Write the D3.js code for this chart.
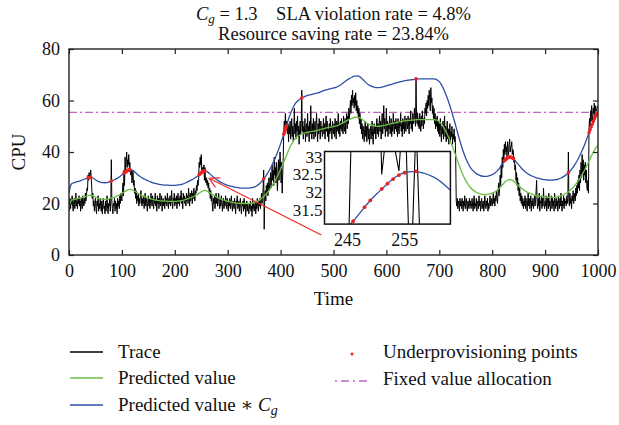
<!DOCTYPE html>
<html>
<head>
<meta charset="utf-8">
<script src="https://cdn.jsdelivr.net/npm/d3@7"></script>
<style>
  body { margin: 0; background: #fff; }
  svg { display: block; }
  text { font-family: "Liberation Serif", "DejaVu Serif", serif; fill: #111; }
</style>
</head>
<body>
<svg id="chart" width="619" height="425"></svg>
<script>
// ---------- data ----------
const Cg = 1.3;
const fixedAlloc = 55.4;
const xTicks = [0, 100, 200, 300, 400, 500, 600, 700, 800, 900, 1000];
const yTicks = [0, 20, 40, 60, 80];
const insetXTicks = [245, 255];
const insetYTicks = [31.5, 32, 32.5, 33];

// CPU trace, one value per time step (t = 0..999)
const trace = [
  17,19,22,18,21,20,23,19,17,21,22,18,20,24,19,21,18,22,20,23,
  19,21,17,22,20,18,23,21,19,22,20,24,21,23,26,25,31,29,32,30.5,
  31,33,30,26,22,24,19,21,17,20,22,18,16,21,19,23,17,20,18,22,
  19,17,21,16,20,22,18,19,16,21,17,20,23,18,16,20,19,22,17,21,
  37,21,18,16,20,19,22,17,21,18,20,16,22,19,21,18,23,20,24,22,
  21,25,28,23,33,27,38,33,36,40,34,37,35,39,34,36,32,31,33,28,
  30,33,27,29,24,26,22,25,20,23,21,24,19,22,20,23,25,21,19,22,
  20,23,18,21,24,19,22,20,17,21,23,19,22,18,20,24,21,19,23,20,
  18,22,20,24,19,21,17,23,20,22,18,21,24,19,20,23,17,21,22,19,
  21,18,23,20,22,19,24,21,18,22,20,23,19,21,25,20,18,22,21,24,
  19,22,20,23,18,21,24,20,22,19,23,21,25,20,22,18,24,21,23,20,
  22,19,24,21,23,20,26,22,19,24,21,23,25,20,24,22,26,23,21,25,
  24,27,25,29,27,29,36,34,38,35,39,32.5,34,33.5,32.6,35,29,34,29,28,
  30,27,29,26,28,24,26,22,25,21,23,19,17,22,20,23,18,21,24,20,
  22,19,21,24,20,18,22,19,23,21,17,20,22,18,21,19,23,20,18,22,
  20,17,21,19,22,18,20,23,19,17,21,20,18,22,19,16,21,20,23,18,
  19,21,17,20,22,18,16,20,19,21,17,22,18,20,15,19,21,17,20,18,
  16,20,18,21,17,19,15,22,18,20,17,19,21,16,20,18,22,19,17,21,
  19,22,18,21,24,20,23,26,33,10,22,25,21,27,24,28,23,26,30,25,
  28,32,26,30,35,29,33,27,38,31,34,28,36,30,25,33,37,29,35,40,
  34,28,36,24,31,38,48,52,49,55,50,52,49,47,51,44,50,47,52,45,
  48,53,46,50,44,49,57,47,51,45,52,48,54,46,50,43,49,52,47,51,
  64,48,52,45,50,47,53,44,49,51,46,55,48,50,44,52,47,58,49,45,
  51,47,53,45,49,52,46,50,55,48,44,51,47,53,49,45,52,48,50,46,
  49,53,47,51,45,50,54,48,52,46,49,44,51,47,53,48,50,45,52,49,
  47,51,46,53,49,45,52,48,50,55,47,51,46,52,49,53,48,51,47,54,
  50,48,53,47,52,55,49,54,51,57,53,56,60,55,62,58,64,59,61,57,
  62,58,63,56,60,55,58,53,57,51,55,49,53,47,51,45,50,48,44,49,
  52,46,50,44,48,51,45,49,43,47,50,45,48,52,46,43,49,51,47,50,
  45,49,53,47,51,46,50,54,48,52,45,49,55,47,51,58,49,53,46,50,
  57,48,52,46,51,49,54,47,50,53,46,51,48,55,50,47,52,49,53,48,
  51,46,53,49,47,52,50,55,48,51,46,53,49,52,47,54,50,48,53,51,
  49,54,50,47,53,51,56,49,52,48,55,51,53,57,52,50,69,54,51,55,
  50,53,49,55,51,48,54,50,56,52,49,53,51,57,55,59,54,60,57,62,
  58,64,60,56,65,59,61,55,58,53,57,51,55,49,53,50,54,48,52,47,
  51,46,53,48,44,50,47,52,45,49,54,46,50,44,48,52,45,49,43,47,
  51,44,48,46,50,43,47,45,49,44,46,38,21,19,22,18,21,20,17,22,
  19,21,18,22,20,17,21,19,23,18,20,22,19,17,21,20,18,22,19,21,
  18,20,22,19,17,21,23,18,20,19,22,17,21,20,18,23,19,21,17,20,
  22,18,20,21,17,19,23,20,18,21,19,22,17,20,18,21,23,19,20,22,
  19,21,24,20,22,19,23,21,25,22,20,24,28,23,26,31,27,35,30,38,
  34,41,37,43,39,44,40,42,38,44,41,39,43,45,40,42,42,44,39,41,
  40,36,38,33,35,29,32,27,30,25,28,23,26,21,24,20,23,19,22,18,
  21,19,23,18,22,20,17,21,24,19,22,18,20,23,17,21,19,22,18,20,
  23,19,21,25,29,20,18,22,19,24,17,21,20,23,18,22,19,26,20,18,
  21,19,23,17,20,22,18,24,19,21,17,20,23,18,22,19,21,17,24,20,
  18,22,19,21,17,23,20,18,22,19,24,20,17,21,19,23,18,22,20,21,
  19,23,20,22,40,21,19,24,20,22,18,23,21,25,20,22,24,21,26,23,
  27,24,29,26,31,25,33,28,36,30,39,32,37,29,35,31,36,28,33,26,
  25,29,24,49,53,50,56,52,58,54,51,57,55,59,54,58,56,56,57,58
];

// predicted value, one value every predStep time steps (t = 0..1000)
const predStep = 5;
const predicted = [
  18.5,21.3,21.6,21.9,22.1,22.4,22.7,23.0,23.2,23.0,
  22.5,22.0,21.7,21.6,21.6,21.8,22.1,22.4,22.8,23.3,
  23.9,24.6,25.2,25.5,25.3,24.7,24.0,23.4,22.9,22.5,
  22.1,21.8,21.5,21.3,21.1,21.0,20.9,20.9,20.8,20.8,
  20.8,20.9,21.0,21.2,21.5,21.9,22.3,22.7,23.2,23.83,
  24.56,25.04,24.95,24.4,23.7,23.0,22.4,21.9,21.5,21.1,
  20.8,20.6,20.4,20.2,20.1,20.0,20.0,20.0,20.0,20.1,
  20.3,20.7,21.3,22.1,23.1,24.3,25.7,27.3,29.0,31.0,
  33.2,35.6,38.1,40.6,42.8,44.5,45.7,46.4,46.9,47.3,
  47.6,47.8,48.0,48.2,48.4,48.7,49.0,49.3,49.5,49.7,
  49.9,50.1,50.5,51.0,51.6,52.2,52.7,53.1,53.4,53.5,
  53.2,52.5,51.7,51.0,50.5,50.2,50.0,50.0,50.1,50.3,
  50.5,50.8,51.0,51.3,51.5,51.7,51.9,52.1,52.2,52.3,
  52.4,52.5,52.6,52.6,52.6,52.6,52.6,52.6,52.6,52.4,
  51.8,50.6,48.9,46.9,44.6,42.0,39.2,36.3,33.5,31.0,
  28.9,27.2,25.9,25.0,24.3,23.9,23.6,23.5,23.5,23.7,
  24.0,24.5,25.2,26.2,27.4,28.5,29.2,29.3,28.8,27.9,
  26.9,26.0,25.2,24.5,24.0,23.6,23.3,23.0,22.8,22.6,
  22.5,22.4,22.4,22.4,22.5,22.7,23.0,23.4,24.0,24.7,
  25.6,26.7,28.0,29.5,31.2,33.1,35.2,37.4,39.5,41.3,
  42.8
];

// underprovisioning points (time, allocated value)
const underT = [36,38,39,40,41, 80, 104,106,107,108,109,110,111,112,113,114,115,
  246,248,249,251,252,253,254,255,257, 368, 406,407,408,409,410,411, 440, 656,
  823,825,826,828,829,830,831,832,834,836,838,840, 944,
  983,985,987,989,991,993,995,997,999];
const underV = [30.0,30.1,30.1,30.2,30.1, 28.7, 31.8,32.1,32.3,32.4,32.6,32.8,32.8,32.9,33.0,33.1,33.15,
  31.17,31.57,31.76,32.09,32.24,32.37,32.48,32.55,32.59, 29.5, 46.9,47.6,48.2,48.9,49.5,50.2, 61.0, 68.3,
  36.5,37.05,37.2,37.6,37.8,37.96,38.0,38.0,38.06,37.96,37.7,37.44, 31.9,
  47.5,48.6,49.7,50.8,51.8,52.8,53.7,54.5,55.25];

// inset (zoom) window and where it sits, both in data units
const insetDomainT = [241, 263];
const insetDomainV = [31.086, 33.157];
const insetBoxT = [483, 721];
const insetBoxV = [12, 40.2];
const arrowFrom = [477, 7.8];
const arrowTo = [265, 29.8];

// ---------- colours ----------
const COLORS = {
  trace: '#000000',
  pred: '#6cbf45',
  predCg: '#2f4fa6',
  under: '#ee2020',
  fixed: '#c462c4',
  arrow: '#ee2a2a',
};

const svg = d3.select('#chart');
const W = 619, H = 425;
svg.append('rect').attr('width', W).attr('height', H).attr('fill', '#fff');

const x = d3.scaleLinear().domain([0, 1000]).range([69, 598]);
const y = d3.scaleLinear().domain([0, 80]).range([255, 49]);

const predPts = predicted.map((v, i) => [i * predStep, v]);
const predCgPts = predPts.map(d => [d[0], d[1] * Cg]);
const tracePts = trace.map((v, i) => [i, v]);

svg.append('clipPath').attr('id', 'plotClip')
  .append('rect')
  .attr('x', x(0)).attr('y', y(80))
  .attr('width', x(1000) - x(0)).attr('height', y(0) - y(80));

const plot = svg.append('g').attr('clip-path', 'url(#plotClip)');

const lineFn = (sx, sy, curve) => d3.line().x(d => sx(d[0])).y(d => sy(d[1])).curve(curve || d3.curveLinear);

// fixed allocation
plot.append('line')
  .attr('x1', x(0)).attr('x2', x(1000))
  .attr('y1', y(fixedAlloc)).attr('y2', y(fixedAlloc))
  .attr('stroke', COLORS.fixed).attr('stroke-width', 1.3)
  .attr('stroke-dasharray', '8,3,2,3');

plot.append('path').datum(tracePts)
  .attr('d', lineFn(x, y))
  .attr('fill', 'none').attr('stroke', COLORS.trace).attr('stroke-width', 1);

plot.append('path').datum(predPts)
  .attr('d', lineFn(x, y, d3.curveCatmullRom))
  .attr('fill', 'none').attr('stroke', COLORS.pred).attr('stroke-width', 1.3);

plot.append('path').datum(predCgPts)
  .attr('d', lineFn(x, y, d3.curveCatmullRom))
  .attr('fill', 'none').attr('stroke', COLORS.predCg).attr('stroke-width', 1.3);

plot.selectAll('circle.under')
  .data(underT.map((t, i) => [t, underV[i]]))
  .enter().append('circle')
  .attr('class', 'under')
  .attr('cx', d => x(d[0])).attr('cy', d => y(d[1]))
  .attr('r', 1.8).attr('fill', COLORS.under);

// annotation arrow towards the zoomed region
{
  const x0 = x(arrowFrom[0]), y0 = y(arrowFrom[1]);
  const x1 = x(arrowTo[0]), y1 = y(arrowTo[1]);
  const ang = Math.atan2(y0 - y1, x0 - x1);
  const len = 11, spread = 0.5;
  const g = svg.append('g').attr('stroke', COLORS.arrow).attr('stroke-width', 1.2).attr('fill', 'none');
  g.append('line').attr('x1', x0).attr('y1', y0).attr('x2', x1).attr('y2', y1);
  g.append('path').attr('d',
    `M${x1 + len * Math.cos(ang - spread)},${y1 + len * Math.sin(ang - spread)}L${x1},${y1}` +
    `L${x1 + len * Math.cos(ang + spread)},${y1 + len * Math.sin(ang + spread)}`);
}

// ---------- axes (box with inward ticks) ----------
const tickFont = 18;
const axB = svg.append('g').attr('transform', `translate(0,${y(0)})`)
  .call(d3.axisBottom(x).tickValues(xTicks).tickFormat(d3.format('d'))
    .tickSizeInner(-5).tickSizeOuter(0).tickPadding(9));
const axT = svg.append('g').attr('transform', `translate(0,${y(80)})`)
  .call(d3.axisTop(x).tickValues(xTicks).tickSizeInner(-5).tickSizeOuter(0).tickFormat(''));
const axL = svg.append('g').attr('transform', `translate(${x(0)},0)`)
  .call(d3.axisLeft(y).tickValues(yTicks).tickSizeInner(-5).tickSizeOuter(0).tickPadding(9));
const axR = svg.append('g').attr('transform', `translate(${x(1000)},0)`)
  .call(d3.axisRight(y).tickValues(yTicks).tickSizeInner(-5).tickSizeOuter(0).tickFormat(''));
[axB, axT, axL, axR].forEach(a => {
  a.select('.domain').remove();
  a.selectAll('line').attr('stroke', '#222').attr('stroke-width', 1.2);
  a.selectAll('text').attr('font-size', tickFont)
    .attr('font-family', '"Liberation Serif", serif').attr('fill', '#111');
});
svg.append('rect')
  .attr('x', x(0)).attr('y', y(80))
  .attr('width', x(1000) - x(0)).attr('height', y(0) - y(80))
  .attr('fill', 'none').attr('stroke', '#222').attr('stroke-width', 1.4);

svg.append('text').attr('x', (x(0) + x(1000)) / 2).attr('y', 305)
  .attr('text-anchor', 'middle').attr('font-size', 19).text('Time');
svg.append('text')
  .attr('transform', `translate(25,${(y(0) + y(80)) / 2}) rotate(-90)`)
  .attr('text-anchor', 'middle').attr('font-size', 19).text('CPU');

// ---------- title ----------
const cx = (x(0) + x(1000)) / 2;
const t1 = svg.append('text').attr('x', cx).attr('y', 20).attr('text-anchor', 'middle').attr('font-size', 18.5);
t1.append('tspan').attr('font-style', 'italic').text('C');
t1.append('tspan').attr('font-style', 'italic').attr('font-size', 13).attr('dy', 3).text('g');
t1.append('tspan').attr('dy', -3).text(' = 1.3\u00a0\u00a0\u00a0\u00a0SLA violation rate = 4.8%');
svg.append('text').attr('x', cx).attr('y', 40).attr('text-anchor', 'middle').attr('font-size', 18.5)
  .text('Resource saving rate = 23.84%');

// ---------- inset ----------
const xi = d3.scaleLinear().domain(insetDomainT).range([x(insetBoxT[0]), x(insetBoxT[1])]);
const yi = d3.scaleLinear().domain(insetDomainV).range([y(insetBoxV[0]), y(insetBoxV[1])]);
const inset = svg.append('g');
inset.append('rect')
  .attr('x', xi.range()[0]).attr('y', yi.range()[1])
  .attr('width', xi.range()[1] - xi.range()[0]).attr('height', yi.range()[0] - yi.range()[1])
  .attr('fill', '#fff');
svg.append('clipPath').attr('id', 'insetClip')
  .append('rect')
  .attr('x', xi.range()[0]).attr('y', yi.range()[1])
  .attr('width', xi.range()[1] - xi.range()[0]).attr('height', yi.range()[0] - yi.range()[1]);
const ig = inset.append('g').attr('clip-path', 'url(#insetClip)');
ig.append('path').datum(tracePts.filter(d => d[0] >= 236 && d[0] <= 268))
  .attr('d', lineFn(xi, yi))
  .attr('fill', 'none').attr('stroke', COLORS.trace).attr('stroke-width', 1.1);
ig.append('path').datum(predCgPts.filter(d => d[0] >= 225 && d[0] <= 280))
  .attr('d', lineFn(xi, yi, d3.curveCatmullRom))
  .attr('fill', 'none').attr('stroke', COLORS.predCg).attr('stroke-width', 1.3);
ig.selectAll('circle')
  .data(underT.map((t, i) => [t, underV[i]]).filter(d => d[0] >= insetDomainT[0] && d[0] <= insetDomainT[1]))
  .enter().append('circle')
  .attr('cx', d => xi(d[0])).attr('cy', d => yi(d[1]))
  .attr('r', 1.9).attr('fill', COLORS.under);
inset.append('rect')
  .attr('x', xi.range()[0]).attr('y', yi.range()[1])
  .attr('width', xi.range()[1] - xi.range()[0]).attr('height', yi.range()[0] - yi.range()[1])
  .attr('fill', 'none').attr('stroke', '#111').attr('stroke-width', 1.5);
inset.selectAll('text.iy').data(insetYTicks).enter().append('text')
  .attr('class', 'iy')
  .attr('x', xi.range()[0] - 2).attr('y', d => yi(d)).attr('dy', '0.35em')
  .attr('text-anchor', 'end').attr('font-size', 17).text(d => d);
inset.selectAll('text.ix').data(insetXTicks).enter().append('text')
  .attr('class', 'ix')
  .attr('x', d => xi(d)).attr('y', yi.range()[0] + 22)
  .attr('text-anchor', 'middle').attr('font-size', tickFont).text(d => d);

// ---------- legend ----------
const legFont = 19;
const leg = svg.append('g');
const leftItems = [
  { label: 'Trace', color: COLORS.trace, y: 352 },
  { label: 'Predicted value', color: COLORS.pred, y: 378 },
  { label: 'Predicted value \u2217 ', color: COLORS.predCg, y: 405, cg: true },
];
leftItems.forEach(it => {
  leg.append('line').attr('x1', 70).attr('x2', 103).attr('y1', it.y).attr('y2', it.y)
    .attr('stroke', it.color).attr('stroke-width', 1.3);
  const t = leg.append('text').attr('x', 118).attr('y', it.y + 6).attr('font-size', legFont);
  t.append('tspan').text(it.label);
  if (it.cg) {
    t.append('tspan').attr('font-style', 'italic').text('C');
    t.append('tspan').attr('font-style', 'italic').attr('font-size', 14).attr('dy', 4).text('g');
  }
});
leg.append('circle').attr('cx', 352).attr('cy', 354).attr('r', 1.5).attr('fill', COLORS.under);
leg.append('text').attr('x', 383).attr('y', 358).attr('font-size', legFont).text('Underprovisioning points');
leg.append('line').attr('x1', 335).attr('x2', 368).attr('y1', 381).attr('y2', 381)
  .attr('stroke', COLORS.fixed).attr('stroke-width', 1.3).attr('stroke-dasharray', '2,4,8,4');
leg.append('text').attr('x', 383).attr('y', 385).attr('font-size', legFont).text('Fixed value allocation');
</script>
</body>
</html>
